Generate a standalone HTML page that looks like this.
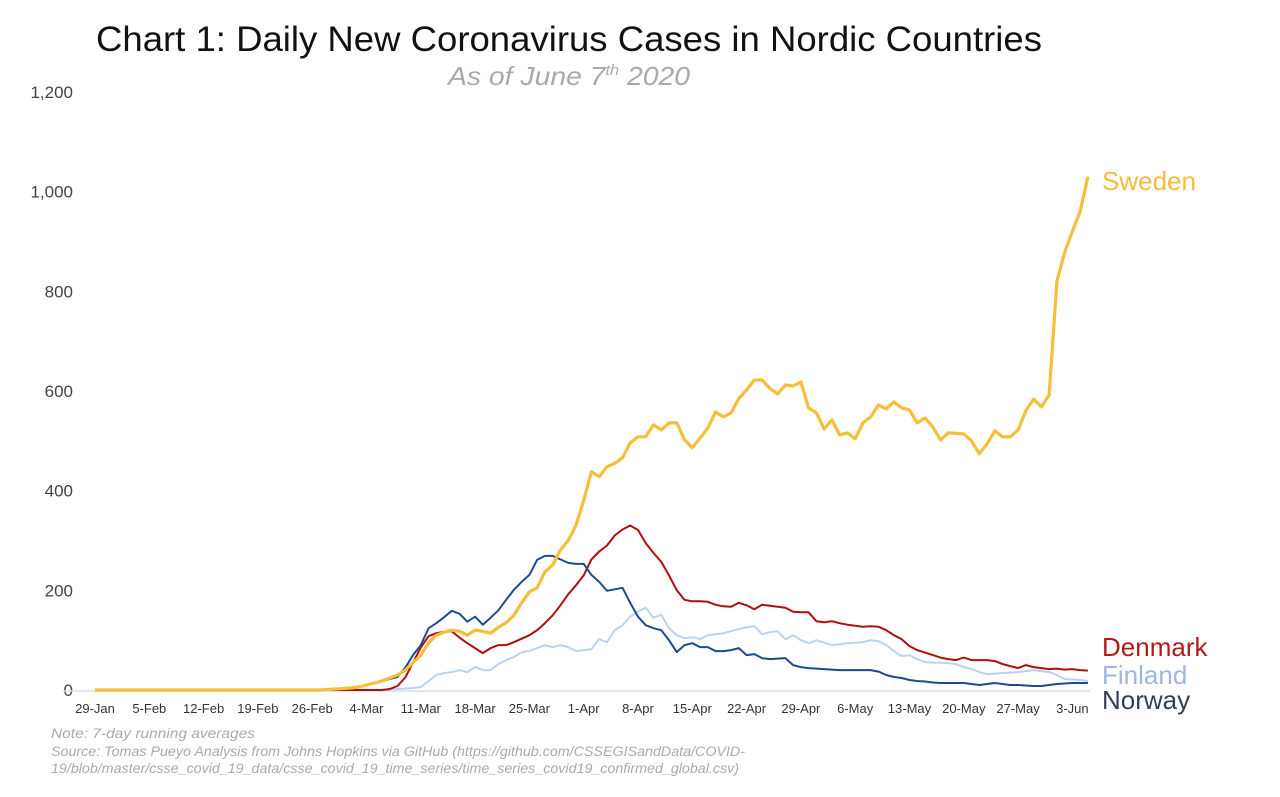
<!DOCTYPE html>
<html><head><meta charset="utf-8">
<style>
html,body{margin:0;padding:0;background:#fff;}
svg{display:block;font-family:"Liberation Sans",sans-serif;}
</style></head>
<body>
<svg id="chart" width="1280" height="797" viewBox="0 0 1280 797" xmlns="http://www.w3.org/2000/svg">
<text x="96" y="51" font-size="35" fill="#111" textLength="946" lengthAdjust="spacingAndGlyphs">Chart 1: Daily New Coronavirus Cases in Nordic Countries</text>
<text x="448" y="85" font-size="26" font-style="italic" fill="#aaa" textLength="242" lengthAdjust="spacingAndGlyphs">As of June 7<tspan font-size="15" dy="-10">th</tspan><tspan dy="10"> 2020</tspan></text>
<g id="yaxis"></g>
<g id="xaxis"></g>
<g id="series"></g>
<text x="1102" y="190" font-size="26" fill="#F5BD3B">Sweden</text>
<text x="1102" y="656" font-size="26" fill="#B21A1A">Denmark</text>
<text x="1102" y="684" font-size="26" fill="#9FB6E0">Finland</text>
<text x="1102" y="709" font-size="26" fill="#333F55">Norway</text>
<text x="51" y="738" font-size="13.5" font-style="italic" fill="#aaa" textLength="204" lengthAdjust="spacingAndGlyphs">Note: 7-day running averages</text>
<text x="51" y="756" font-size="13.5" font-style="italic" fill="#aaa" textLength="694" lengthAdjust="spacingAndGlyphs">Source: Tomas Pueyo Analysis from Johns Hopkins via GitHub (https://github.com/CSSEGISandData/COVID-</text>
<text x="51" y="773" font-size="13.5" font-style="italic" fill="#aaa" textLength="688" lengthAdjust="spacingAndGlyphs">19/blob/master/csse_covid_19_data/csse_covid_19_time_series/time_series_covid19_confirmed_global.csv)</text>
</svg>
<script>
const xTickLabels = ["29-Jan","5-Feb","12-Feb","19-Feb","26-Feb","4-Mar","11-Mar","18-Mar","25-Mar","1-Apr","8-Apr","15-Apr","22-Apr","29-Apr","6-May","13-May","20-May","27-May","3-Jun"];
const yTicks = [0,200,400,600,800,1000,1200];
const sweden = [0,0,0,0,0,0,0,0,0,0,0,0,0,0,0,0,0,0,0,0,0,0,0,0,0,0,0,0,0,0,
1,2,3,4,6,10,14,18,24,30,
40,55,70,95,110,116,120,118,110,120,
118,114,126,135,150,175,197,205,237,251,
281,300,330,380,438,428,448,455,466,496,
508,508,532,522,536,536,502,486,505,526,
558,548,556,585,602,622,622,605,594,612,
610,618,566,556,524,542,512,516,504,536,
548,572,564,578,
566,562,536,546,528,502,516,515,514,500,
474,494,520,508,508,522,560,584,568,592,
820,878,920,960,1030];
const denmark = [0,0,0,0,0,0,0,0,0,0,0,0,0,0,0,0,0,0,0,0,0,0,0,0,0,0,0,0,0,0,0,0,0,0,0,0,0,0,
2,8,
25,55,85,108,114,117,118,105,94,84,
74,84,90,90,96,103,110,120,134,150,
170,192,210,230,262,278,290,310,322,330,
321,295,275,257,230,200,181,178,178,177,
171,168,167,175,170,162,171,169,167,165,
157,156,156,138,136,138,134,131,129,127,
128,127,120,110,102,88,80,75,70,65,
62,60,65,60,60,60,58,52,48,44,
50,46,44,42,43,41,42,40,39];
const norway = [0,0,0,0,0,0,0,0,0,0,0,0,0,0,0,0,0,0,0,0,0,0,0,0,0,0,0,0,
1,1,
1,2,3,4,6,10,14,18,22,26,
45,70,90,124,134,146,159,153,137,147,
131,145,160,181,201,217,231,261,269,269,
262,255,253,253,231,217,199,202,205,175,
147,130,124,120,100,76,90,94,86,86,
78,78,80,84,70,72,64,62,63,64,
50,46,44,43,42,41,40,40,40,40,
40,37,30,26,24,20,18,17,15,14,
14,14,14,12,10,12,14,12,10,10,
9,8,8,10,12,13,14,14,14];
const finland = [0,0,0,0,0,0,0,0,0,0,0,0,0,0,0,0,0,0,0,0,0,0,0,0,0,0,0,0,0,0,0,0,0,0,0,0,0,0,
1,2,
3,4,6,18,30,34,36,40,36,46,
40,40,52,60,66,76,78,84,90,86,
90,86,78,80,82,102,96,120,130,147,
158,165,145,151,124,110,104,106,102,110,
112,114,118,122,126,128,112,116,118,102,
110,100,94,100,95,90,92,94,95,96,
100,98,90,78,68,70,62,56,55,55,
54,52,46,42,36,32,33,34,35,36,
38,40,38,36,30,22,21,20,18];

const NS="http://www.w3.org/2000/svg";
const x0=95, dayW=7.757, y0=690, yScale=598/1200;
function xs(d){return x0+d*dayW;}
function ys(v){return y0-v*yScale;}
function mk(tag,attrs,parent){const e=document.createElementNS(NS,tag);for(const k in attrs)e.setAttribute(k,attrs[k]);parent.appendChild(e);return e;}

const ya=document.getElementById('yaxis');
yTicks.forEach(v=>{
  const t=mk('text',{x:73,y:ys(v)+6,'text-anchor':'end','font-size':17,fill:'#444'},ya);
  
  
  t.textContent=v.toLocaleString('en-US');
});
const xa=document.getElementById('xaxis');
const axl=mk('line',{x1:63,x2:1090,y1:y0+1,y2:y0+1,stroke:'#ddd','stroke-width':1.5},xa);


xTickLabels.forEach((lab,i)=>{
  const t=mk('text',{x:xs(i*7),y:713,'text-anchor':'middle','font-size':13,fill:'#333'},xa);
  
  
  t.textContent=lab;
});
const sg=document.getElementById('series');
function line(arr,color,w,name){
  const d=arr.map((v,i)=>(i?'L':'M')+xs(i).toFixed(1)+','+ys(v).toFixed(1)).join('');
  const p=mk('path',{d:d,fill:'none',stroke:color,'stroke-width':w,'stroke-linejoin':'round'},sg);
  
  
}
line(finland,'#BCD3EE',2,'finland-line');
line(denmark,'#B00E0E',2,'denmark-line');
line(norway,'#1F4A8F',2,'norway-line');
line(sweden,'#F6BE3A',3.2,'sweden-line');
</script>
</body></html>
